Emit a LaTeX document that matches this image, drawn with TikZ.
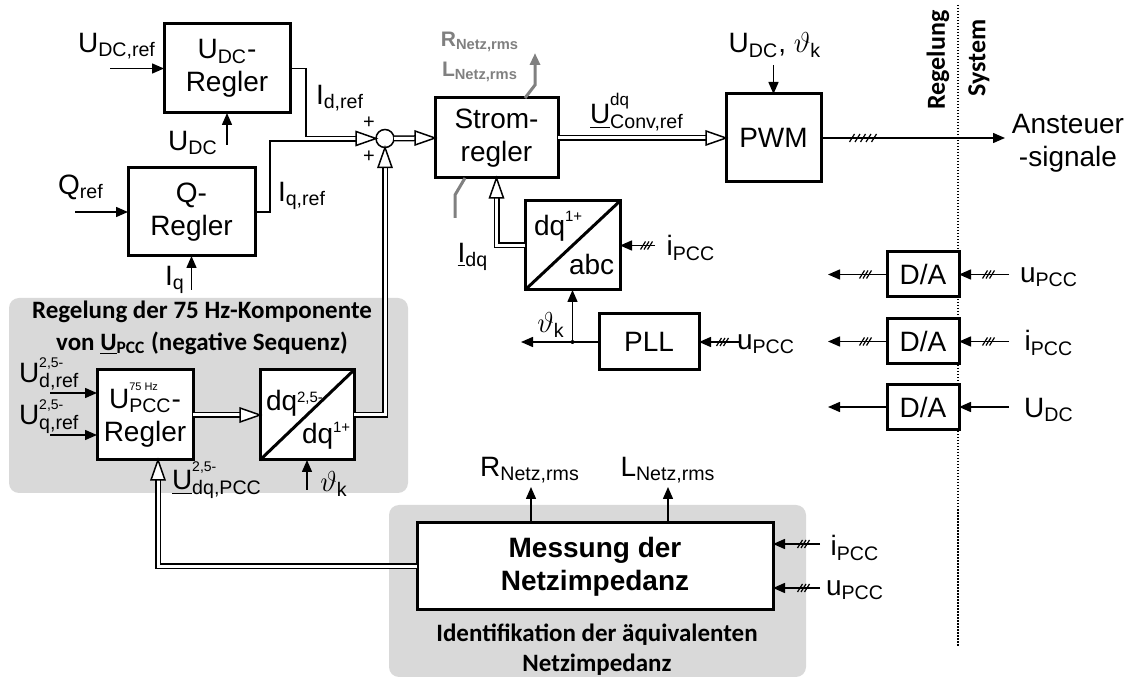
\documentclass[tikz,border=0pt]{standalone}
\usepackage{fontspec}
\setmainfont{Liberation Sans}
\newfontfamily\calib{Carlito}
\usetikzlibrary{arrows.meta,calc}
\definecolor{gbox}{RGB}{217,217,217}
\definecolor{gln}{RGB}{128,128,128}
\newcommand{\sbs}[1]{\textsubscript{#1}}
\newcommand{\spx}[3]{\raisebox{#1}{\fontsize{#2}{#2}\selectfont #3}}
\newcommand{\sps}[4][0.65em]{\rlap{\raisebox{#1}{\fontsize{#2}{#2}\selectfont #3}}\textsubscript{#4}}
\newcommand{\thk}{$\vartheta$\sbs{k}}
\begin{document}
\begin{tikzpicture}[x=0.5pt,y=-0.5pt,
  every node/.style={font=\fontsize{14}{16.5}\selectfont, inner sep=0pt, outer sep=0pt, align=center},
  blk/.style={draw, line width=1.5pt, fill=white},
  ln/.style={line width=0.75pt},
  arr/.style={line width=0.75pt, -{Triangle[length=6pt,width=5pt]}},
  dbl/.style={draw, double=white, double distance=1.5pt, line width=0.75pt, shorten >=9.5pt},
  gl/.style={draw=gln, line width=1.5pt},
  title/.style={font=\calib\bfseries\fontsize{12.5}{14}\selectfont},
  glabel/.style={text=gln, font=\bfseries\fontsize{10.5}{12}\selectfont},
  pics/ohead/.style={code={\draw[line width=0.75pt, fill=white, line join=miter] (0,0) -- (-20,-7) -- (-20,7) -- cycle;}},
  pics/hthree/.style={code={\foreach \i in {0,1,2}{\draw[line width=0.6pt] ({\i*3.5-2.5},4) -- ({\i*3.5+2.5},-4);}}},
  pics/hfive/.style={code={\foreach \i in {0,...,4}{\draw[line width=0.6pt] ({\i*5.5-2.5},4) -- ({\i*5.5+2.5},-4);}}}
]
\useasboundingbox (0,0) rectangle (1132,679);

% gray background boxes
\fill[gbox, rounded corners=5pt] (9,298) rectangle (408,493);
\fill[gbox, rounded corners=5pt] (389,505) rectangle (806,677);

% separator
\draw[line width=0.75pt, dash pattern=on 0.75pt off 0.75pt] (958,5) -- (958,647);
\node[font=\calib\bfseries\fontsize{13}{14}\selectfont, rotate=90] (tReg) at (938,60) {Regelung};
\node[font=\calib\bfseries\fontsize{13}{14}\selectfont, rotate=90] (tSys) at (979,58) {System};

% blocks
\node[blk, minimum width=63pt, minimum height=44.5pt] (udc) at (227,68.5) {U\sbs{DC}-\\Regler};
\node[blk, minimum width=63.5pt, minimum height=44pt] (q) at (191.5,212) {Q-\\Regler};
\node[blk, minimum width=61.5pt, minimum height=40pt] (strom) at (496.5,138) {Strom-\\regler};
\node[blk, minimum width=47.5pt, minimum height=44pt] (pwm) at (773.5,138) {PWM};
\node[blk, minimum width=47.5pt, minimum height=44.5pt] (dqabc) at (572.5,245.5) {};
\node[blk, minimum width=50pt, minimum height=28pt] (pll) at (649,342) {PLL};
\node[blk, minimum width=36pt, minimum height=22.5pt] (da1) at (923,274.5) {D/A};
\node[blk, minimum width=36pt, minimum height=22.5pt] (da2) at (923,341.5) {D/A};
\node[blk, minimum width=36pt, minimum height=22.5pt] (da3) at (923,407) {D/A};
\node[blk, minimum width=48pt, minimum height=45pt] (upcc) at (145,415) {U\sps{5.5}{75 Hz}{PCC}-\\Regler};
\node[blk, minimum width=47pt, minimum height=45pt] (dq25) at (307,415) {};
\node[blk, minimum width=178pt, minimum height=43.5pt, font=\bfseries\fontsize{14}{16.5}\selectfont] (mess) at (595,566.5) {Messung der\\Netzimpedanz};
\node[draw, circle, line width=0.75pt, fill=white, minimum size=9pt] (sum) at (385,138.5) {};

% transformation blocks content
\draw[line width=1.5pt] (dqabc.south west) -- (dqabc.north east);
\node[anchor=base west] (dqabcT) at (534,236) {dq\spx{0.5em}{7.5}{1+}};
\node[anchor=base west] (dqabcB) at (569,275) {abc};
\draw[line width=1.5pt] (dq25.south west) -- (dq25.north east);
\node[anchor=base west] (dq25T) at (266,411) {dq\spx{0.3em}{7.5}{2,5-}};
\node[anchor=base west] (dq25B) at (302,444) {dq\spx{0.4em}{7.5}{1+}};

% coordinates for free ends
\coordinate (cUdcref) at (110,68.5);
\coordinate (cQref) at (75,212);
\coordinate (cUdcin) at (227,145);
\coordinate (cIq) at (191.5,290);
\coordinate (cPwmin) at (773.5,65);
\coordinate (cAnst) at (1005,138);
\coordinate (cIpcc1) at (655,245.5);
\coordinate (cThk) at (521,342);
\coordinate (cUpcc1) at (740,342);
\coordinate (cDal1) at (828,274.5);
\coordinate (cDal2) at (828,341.5);
\coordinate (cDal3) at (828,407);
\coordinate (cDar1) at (1009,274.5);
\coordinate (cDar2) at (1009,341.5);
\coordinate (cDar3) at (1009,407);
\coordinate (cUdref) at (50,393);
\coordinate (cUqref) at (50,435);
\coordinate (cTh25) at (307,490);
\coordinate (cRn) at (531,487);
\coordinate (cLn) at (668,487);
\coordinate (cMi) at (820,544);
\coordinate (cMu) at (820,588);
\coordinate (sd) at (358,136.5);
\coordinate (sq) at (358,141);
\coordinate (gTop) at (535,53);
\coordinate (gBot) at (455,218);
\coordinate (upccin) at ($(upcc.south)+(13,0)$);

% thin arrows
\draw[arr] (cUdcref) -- (udc.west);
\draw[arr] (cQref) -- (q.west);
\draw[arr] (cUdcin) -- (udc.south);
\draw[arr] (cIq) -- (q.south);
\draw[arr] (cPwmin) -- (pwm.north);
\draw[arr] (pwm.east) -- (cAnst);
\draw[arr] (cIpcc1) -- (dqabc.east);
\coordinate (jn) at (dqabc.south |- pll.west);
\draw[arr] (jn) -- (dqabc.south);
\draw[arr] (pll.west) -- (cThk);
\fill (jn) circle (2);
\draw[arr] (cUpcc1) -- (pll.east);
\draw[arr] (da1.west) -- (cDal1);
\draw[arr] (da2.west) -- (cDal2);
\draw[arr] (da3.west) -- (cDal3);
\draw[arr] (cDar1) -- (da1.east);
\draw[arr] (cDar2) -- (da2.east);
\draw[arr] (cDar3) -- (da3.east);
\draw[arr] (cUdref) -- (upcc.west |- cUdref);
\draw[arr] (cUqref) -- (upcc.west |- cUqref);
\draw[arr] (cTh25) -- (dq25.south);
\draw[arr] (mess.north -| cRn) -- (cRn);
\draw[arr] (mess.north -| cLn) -- (cLn);
\draw[arr] (cMi) -- (mess.east |- cMi);
\draw[arr] (cMu) -- (mess.east |- cMu);

% hash marks
\pic at (852,138) {hfive};
\pic at (643,245.5) {hthree};
\pic at (719,342) {hthree};
\pic at (862,274.5) {hthree};
\pic at (862,341.5) {hthree};
\pic at (985,274.5) {hthree};
\pic at (985,341.5) {hthree};
\pic at (800,544) {hthree};
\pic at (800,588) {hthree};

% summation inputs
\draw[ln] (udc.east) -- ++(16,0) |- (sd);
\draw[ln] (q.east) -- ++(15,0) |- (sq);
\pic at (sum.west) {ohead};

% double arrows
\draw[dbl] (sum.east) -- (strom.west);
\pic at (strom.west) {ohead};
\draw[dbl] (strom.east) -- (pwm.west);
\pic at (pwm.west) {ohead};
\draw[dbl] (dqabc.west) -| (strom.south);
\pic[rotate=90] at (strom.south) {ohead};
\draw[dbl] (upcc.east) -- (dq25.west);
\pic at (dq25.west) {ohead};
\draw[dbl] (dq25.east) -| (sum.south);
\pic[rotate=90] at (sum.south) {ohead};
\draw[dbl] (mess.west) -| (upccin);
\pic[rotate=90] at (upccin) {ohead};

% gray lines at current controller
\draw[gl, -{Triangle[length=6pt,width=5pt]}] ($(strom.north)+(28.5,0)$) -- (535,85) -- (gTop);
\draw[gl] ($(strom.south)+(-31.5,0)$) -- (455,195) -- (gBot);

% labels
\node (lUdcref) at (117,46) {U\sbs{DC,ref}};
\node (lIdref) at (340,98) {I\sbs{d,ref}};
\node (lUdc) at (193,143) {U\sbs{DC}};
\node (lQref) at (81,187) {Q\sbs{ref}};
\node (lIqref) at (302,196) {I\sbs{q,ref}};
\node (lIq) at (175,280) {I\sbs{q}};
\node[font=\fontsize{10}{12}\selectfont] (lp1) at (369,123) {+};
\node[font=\fontsize{10}{12}\selectfont] (lp2) at (369,157) {+};
\node[glabel] (lRg) at (480,42) {R\sbs{Netz,rms}};
\node[glabel] (lLg) at (480,72) {L\sbs{Netz,rms}};
\node[anchor=base west] (lUconv) at (590,124) {\underline{U}\sps{8.5}{dq}{Conv,ref}};
\node (lUdcth) at (775,45) {U\sbs{DC}, \thk};
\node (lAnst) at (1068,143) {Ansteuer\\-signale};
\node (lIdq) at (473,257) {\underline{I}\sbs{dq}};
\node (lIpcc1) at (691,248) {i\sbs{PCC}};
\node (lThk1) at (551,325) {\thk};
\node (lUpcc1) at (766,344) {u\sbs{PCC}};
\node (lDa1) at (1049,277) {u\sbs{PCC}};
\node (lDa2) at (1049,343) {i\sbs{PCC}};
\node (lDa3) at (1049,410) {U\sbs{DC}};
\node[title] (tA1) at (202,312) {Regelung der 75 Hz-Komponente};
\node[title] (tA2) at (202,343) {von \underline{U}\sbs{PCC} (negative Sequenz)};
\node[anchor=base west] (lUdref) at (19,383) {U\sps[0.55em]{7}{2,5-}{d,ref}};
\node[anchor=base west] (lUqref) at (19,425) {U\sps[0.55em]{7}{2,5-}{q,ref}};
\node[anchor=base west] (lUdqpcc) at (172,490) {\underline{U}\sps{7}{2,5-}{dq,PCC}};
\node (lThk2) at (334,484) {\thk};
\node (lRn) at (530,470) {R\sbs{Netz,rms}};
\node (lLn) at (668,470) {L\sbs{Netz,rms}};
\node (lMi) at (855,548) {i\sbs{PCC}};
\node (lMu) at (855,590) {u\sbs{PCC}};
\node[title] (tB1) at (597,635) {Identifikation der äquivalenten};
\node[title] (tB2) at (597,665) {Netzimpedanz};
\end{tikzpicture}
\end{document}
